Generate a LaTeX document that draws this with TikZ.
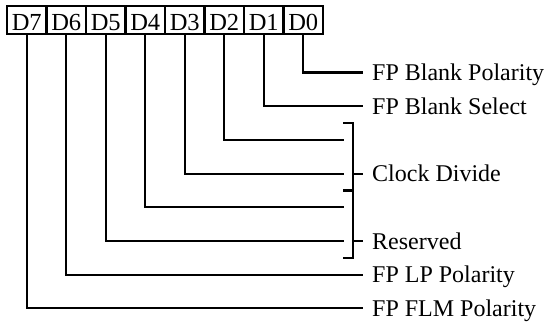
\documentclass[tikz,border=0pt]{standalone}
\usepackage{fontspec}
\setmainfont{Liberation Serif}
\begin{document}
\begin{tikzpicture}[x=1pt,y=-1pt,
  cell/.style={draw,line width=2.1pt,minimum width=39.5pt,minimum height=28pt,
    inner sep=0pt,text height=20.5pt,text depth=0pt,
    font=\fontsize{24.5}{28}\selectfont},
  lbl/.style={anchor=west,inner sep=0pt,text height=16pt,text depth=0pt,
    font=\fontsize{24}{28}\selectfont},
  wire/.style={line width=2.1pt}]
\useasboundingbox (0,0) rectangle (550,322);
% register cells
\foreach \n [count=\k from 0] in {7,6,5,4,3,2,1,0}{
  \node[cell] (d\n) at (26.75+39.5*\k,20) {D\n};
}
% levels
\def\yy#1{72.5+33.7*#1}
% labels
\node[lbl] (l0) at (372,{\yy{0}}) {FP Blank Polarity};
\node[lbl] (l1) at (372,{\yy{1}}) {FP Blank Select};
\node[lbl] (lc) at (372,{\yy{3}}) {Clock Divide};
\node[lbl] (lr) at (372,{\yy{5}}) {Reserved};
\node[lbl] (l6) at (372,{\yy{6}}) {FP LP Polarity};
\node[lbl] (l7) at (372,{\yy{7}}) {FP FLM Polarity};
% line ends before bracket
\coordinate (e2) at (344,{\yy{2}});
\coordinate (e3) at (344,{\yy{3}});
\coordinate (e4) at (344,{\yy{4}});
\coordinate (e5) at (344,{\yy{5}});
% bracket points
\coordinate (bt) at (353,{\yy{2}-17});
\coordinate (bm) at (353,{(\yy{3}+\yy{4})/2});
\coordinate (bb) at (353,{\yy{5}+17});
\coordinate (b3) at (353,{\yy{3}});
\coordinate (b5) at (353,{\yy{5}});
% connectors
\draw[wire] (d0.south) |- ([xshift=-9pt]l0.west);
\draw[wire] (d1.south) |- ([xshift=-9pt]l1.west);
\draw[wire] (d2.south) |- (e2);
\draw[wire] (d3.south) |- (e3);
\draw[wire] (d4.south) |- (e4);
\draw[wire] (d5.south) |- (e5);
\draw[wire] (d6.south) |- ([xshift=-9pt]l6.west);
\draw[wire] (d7.south) |- ([xshift=-9pt]l7.west);
% bracket
\draw[wire] ([xshift=-10pt]bt) -- (bt) -- (bb) -- ([xshift=-10pt]bb);
\draw[wire] ([xshift=-10pt]bm) -- (bm);
\draw[wire] (b3) -- ([xshift=-9pt]lc.west);
\draw[wire] (b5) -- ([xshift=-9pt]lr.west);
\end{tikzpicture}
\end{document}
